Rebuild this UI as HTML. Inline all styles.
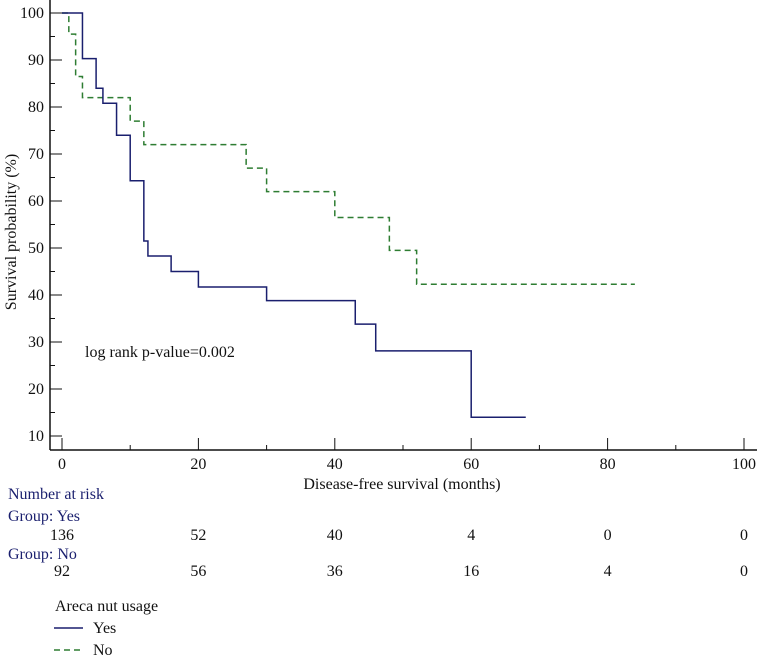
<!DOCTYPE html>
<html><head><meta charset="utf-8"><style>
body{margin:0;background:#fff}
svg text{font-family:"Liberation Serif",serif;font-size:16px;fill:#111}
.blue{fill:#1a1f6e}
</style></head><body>
<svg width="757" height="655">
<g id="axes"></g>
<g id="curves"></g>
<text x="85" y="357">log rank p-value=0.002</text>
<text x="402" y="489" text-anchor="middle">Disease-free survival (months)</text>
<text transform="translate(16,232) rotate(-90)" text-anchor="middle">Survival probability (%)</text>
<text x="8" y="499" class="blue">Number at risk</text>
<text x="8" y="521" class="blue">Group: Yes</text>
<text x="8" y="559" class="blue">Group: No</text>
<g id="risk"></g>
<text x="55" y="611">Areca nut usage</text>
<g><line x1="54" y1="628" x2="83" y2="628" stroke="#1a1f6e" stroke-width="1.5"/><text x="93" y="633">Yes</text></g>
<g><line x1="54" y1="650" x2="83" y2="650" stroke="#2e7d32" stroke-width="1.5" stroke-dasharray="6,4"/><text x="93" y="655">No</text></g>
</svg>
<script>
const yesTimes=[0,3,5,6,8,10,12,12.6,16,20,30,43,46,60,68];
const yesSurv=[100,90.3,84,80.8,74,64.3,51.5,48.3,45,41.7,38.8,33.8,28.1,14,14];
const noTimes=[0,1,2,3,10,12,27,30,40,48,52,84];
const noSurv=[100,95.5,86.5,82,77,72,67,62,56.5,49.5,42.3,42.3];
const xTicks=[0,20,40,60,80,100];
const yTicks=[10,20,30,40,50,60,70,80,90,100];
const riskYes=[136,52,40,4,0,0];
const riskNo=[92,56,36,16,4,0];
const X=v=>62+v*6.82, Y=v=>436-(v-10)*4.7;
const NS='http://www.w3.org/2000/svg';
function mk(t,a,p){const e=document.createElementNS(NS,t);for(const k in a)e.setAttribute(k,a[k]);p.appendChild(e);return e;}
const ax=document.getElementById('axes');
let e=mk('line',{x1:50,y1:0,x2:50,y2:450,stroke:'#111','stroke-width':1.5},ax);


e=mk('line',{x1:50,y1:450,x2:757,y2:450,stroke:'#111','stroke-width':1.5},ax);


yTicks.forEach(v=>{mk('line',{x1:50,y1:Y(v),x2:62,y2:Y(v),stroke:'#111'},ax);
 if(v<100)mk('line',{x1:50,y1:Y(v+5),x2:55,y2:Y(v+5),stroke:'#111'},ax);
 const t=mk('text',{x:44,y:Y(v)+5,'text-anchor':'end'},ax);t.textContent=v;
 
 });
xTicks.forEach((v,i)=>{mk('line',{x1:X(v),y1:450,x2:X(v),y2:438,stroke:'#111'},ax);
 if(i<5)mk('line',{x1:X(v+10),y1:450,x2:X(v+10),y2:445,stroke:'#111'},ax);
 const t=mk('text',{x:X(v),y:469,'text-anchor':'middle'},ax);t.textContent=v;
 
 });
function step(ts,ss){let d='M'+X(ts[0])+' '+Y(ss[0]);for(let i=1;i<ts.length;i++){d+=' H'+X(ts[i])+' V'+Y(ss[i]);}return d;}
const cv=document.getElementById('curves');
e=mk('path',{d:step(noTimes,noSurv),fill:'none',stroke:'#2e7d32','stroke-width':1.5,'stroke-dasharray':'6,4'},cv);


e=mk('path',{d:step(yesTimes,yesSurv),fill:'none',stroke:'#1a1f6e','stroke-width':1.5},cv);


const rk=document.getElementById('risk');
xTicks.forEach((v,i)=>{let t=mk('text',{x:X(v),y:540,'text-anchor':'middle'},rk);t.textContent=riskYes[i];
 
 
 t=mk('text',{x:X(v),y:576,'text-anchor':'middle'},rk);t.textContent=riskNo[i];
 
 });
</script>
</body></html>
